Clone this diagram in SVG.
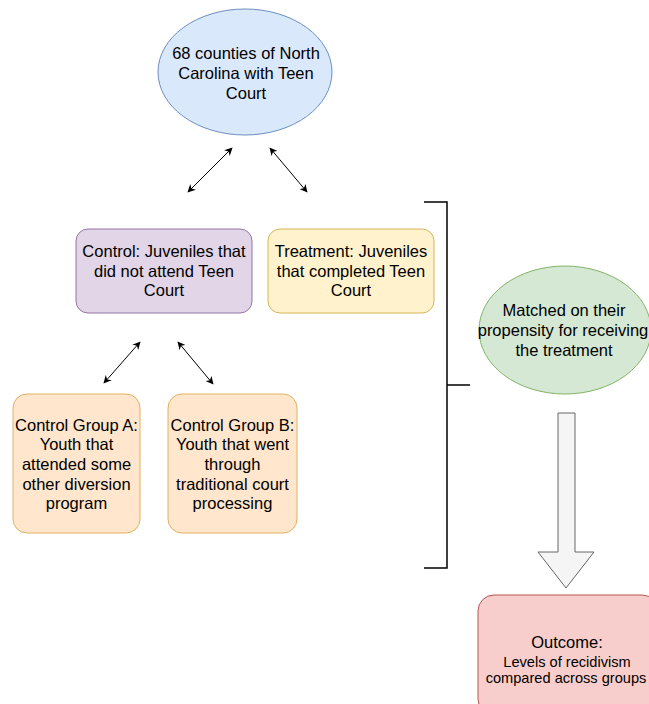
<svg xmlns="http://www.w3.org/2000/svg" width="649" height="704" viewBox="0 0 649 704">
<style>
text{font-family:"Liberation Sans",Arial,sans-serif;font-size:16.5px;fill:#000;text-anchor:middle}
.sm{font-size:14.6px}
.conn{stroke:#000;stroke-width:1;fill:none;marker-start:url(#ah);marker-end:url(#ah)}
.br{stroke:#000;stroke-width:1.5;fill:none}
</style>
<defs>
<marker id="ah" viewBox="0 0 10 10" refX="9" refY="5" markerWidth="8" markerHeight="8" markerUnits="userSpaceOnUse" orient="auto-start-reverse">
<path d="M0,0 L10,5 L0,10 L3,5 Z" fill="#000"/>
</marker>
</defs>
<rect width="649" height="704" fill="#fff"/>
<g id="connectors">
<line class="conn" x1="188" y1="192" x2="232" y2="148"/>
<line class="conn" x1="270" y1="148" x2="307" y2="192"/>
<line class="conn" x1="104" y1="383" x2="140" y2="342"/>
<line class="conn" x1="178" y1="342" x2="213" y2="384"/>
<path class="br" d="M424,202 H447 V568 H424 M447,385 H470"/>
<path d="M558,413 H575 V552 H594 L566,588 L538,552 H558 Z" fill="#f5f5f5" stroke="#666" stroke-width="1"/>
</g>
<g id="counties">
<ellipse cx="245" cy="72" rx="87" ry="63" fill="#dae8fc" stroke="#6c8ebf"/>
<text x="246" y="59">68 counties of North</text>
<text x="246" y="79">Carolina with Teen</text>
<text x="246" y="99">Court</text>
</g>
<g id="control">
<rect x="76" y="229" width="176" height="84" rx="12" fill="#e1d5e7" stroke="#9673a6"/>
<text x="164" y="257">Control: Juveniles that</text>
<text x="164" y="277">did not attend Teen</text>
<text x="164" y="296">Court</text>
</g>
<g id="treatment">
<rect x="268" y="229" width="166" height="84" rx="12" fill="#fff2cc" stroke="#d6b656"/>
<text x="351" y="257">Treatment: Juveniles</text>
<text x="351" y="277">that completed Teen</text>
<text x="351" y="296">Court</text>
</g>
<g id="groupA">
<rect x="13" y="394" width="127" height="139" rx="14" fill="#ffe6cc" stroke="#e0b060"/>
<text x="76.5" y="431">Control Group A:</text>
<text x="76.5" y="450">Youth that</text>
<text x="76.5" y="470">attended some</text>
<text x="76.5" y="490">other diversion</text>
<text x="76.5" y="509">program</text>
</g>
<g id="groupB">
<rect x="168" y="394" width="129" height="139" rx="14" fill="#ffe6cc" stroke="#e0b060"/>
<text x="232.5" y="431">Control Group B:</text>
<text x="232.5" y="450">Youth that went</text>
<text x="232.5" y="470">through</text>
<text x="232.5" y="490">traditional court</text>
<text x="232.5" y="509">processing</text>
</g>
<g id="matched">
<ellipse cx="565" cy="330" rx="86" ry="64" fill="#d5e8d4" stroke="#82b366"/>
<text x="564" y="316">Matched on their</text>
<text x="563" y="336">propensity for receiving</text>
<text x="564" y="356">the treatment</text>
</g>
<g id="outcome">
<rect x="478" y="595" width="180" height="120" rx="16" fill="#f8cecc" stroke="#b85450"/>
<text x="567" y="648">Outcome:</text>
<text class="sm" x="567" y="667">Levels of recidivism</text>
<text class="sm" x="566" y="683">compared across groups</text>
</g>
</svg>
